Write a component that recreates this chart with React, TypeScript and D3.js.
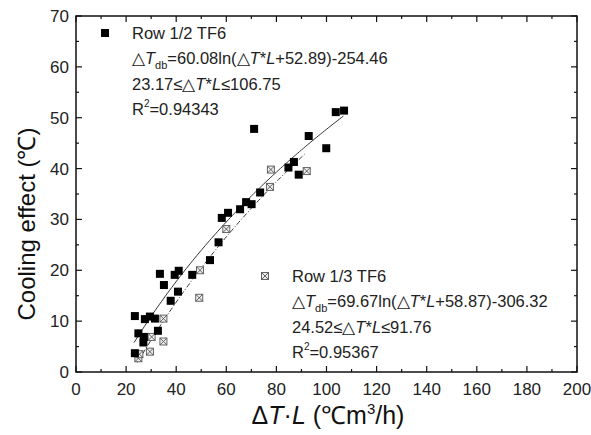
import { useEffect, useRef } from "react";
import * as d3 from "d3";

// Row 1/2 TF6 (black squares)
const row12X = [23.5, 23.5, 24.9, 27.1, 26.9, 27.5, 29.5, 31.5, 32.7, 33.5, 35.1, 37.8, 39.4, 41.0, 40.7, 46.4, 53.5, 56.9, 58.2, 60.7, 65.5, 67.9, 70.1, 71.1, 73.5, 84.8, 87.0, 88.9, 92.9, 99.9, 103.7, 107.0];
const row12Y = [11.0, 3.7, 7.6, 6.9, 5.8, 10.4, 10.9, 10.5, 8.1, 19.3, 17.1, 14.0, 19.1, 19.9, 15.8, 19.1, 22.0, 25.5, 30.3, 31.3, 32.0, 33.4, 33.0, 47.8, 35.3, 40.2, 41.3, 38.8, 46.4, 44.0, 51.1, 51.4];

// Row 1/3 TF6 (crossed squares)
const row13X = [24.9, 25.3, 29.5, 30.2, 34.9, 34.9, 49.5, 49.2, 60.0, 77.4, 77.8, 92.1];
const row13Y = [2.7, 3.5, 4.0, 6.9, 6.0, 10.5, 20.0, 14.6, 28.1, 36.4, 39.8, 39.5];

// fitted curves: y = a*ln(x + b) - c over [lo, hi]
const fit12 = { a: 60.08, b: 52.89, c: 254.46, lo: 23.17, hi: 106.75 };
const fit13 = { a: 69.67, b: 58.87, c: 306.32, lo: 24.52, hi: 91.76 };

const xTicks = [0, 20, 40, 60, 80, 100, 120, 140, 160, 180, 200];
const yTicks = [0, 10, 20, 30, 40, 50, 60, 70];

export default function App() {
  const svgRef = useRef<SVGSVGElement>(null);

  useEffect(() => {
    if (!svgRef.current) return;
    const svg = d3.select(svgRef.current);
    svg.selectAll("*").remove();

    const left = 76, right = 577, top = 16, bottom = 372;
    const x = d3.scaleLinear().domain([0, 200]).range([left, right]);
    const y = d3.scaleLinear().domain([0, 70]).range([bottom, top]);
    const font = "'Liberation Sans', Arial, sans-serif";
    const ink = "#222";

    // frame
    svg.append("rect")
      .attr("x", left).attr("y", top)
      .attr("width", right - left).attr("height", bottom - top)
      .attr("fill", "none").attr("stroke", "#111").attr("stroke-width", 1.5);

    // ticks, all inward
    const xMinor = d3.range(10, 200, 20);
    const yMinor = d3.range(5, 70, 10);
    const g = svg.append("g").attr("stroke", "#111").attr("stroke-width", 1.2);
    xTicks.forEach(t => {
      g.append("line").attr("x1", x(t)).attr("x2", x(t)).attr("y1", bottom).attr("y2", bottom - 6);
      g.append("line").attr("x1", x(t)).attr("x2", x(t)).attr("y1", top).attr("y2", top + 6);
    });
    xMinor.forEach(t => {
      g.append("line").attr("x1", x(t)).attr("x2", x(t)).attr("y1", bottom).attr("y2", bottom - 3);
      g.append("line").attr("x1", x(t)).attr("x2", x(t)).attr("y1", top).attr("y2", top + 3);
    });
    yTicks.forEach(t => {
      g.append("line").attr("x1", left).attr("x2", left + 6).attr("y1", y(t)).attr("y2", y(t));
      g.append("line").attr("x1", right).attr("x2", right - 6).attr("y1", y(t)).attr("y2", y(t));
    });
    yMinor.forEach(t => {
      g.append("line").attr("x1", left).attr("x2", left + 3).attr("y1", y(t)).attr("y2", y(t));
      g.append("line").attr("x1", right).attr("x2", right - 3).attr("y1", y(t)).attr("y2", y(t));
    });

    // tick labels
    svg.append("g").selectAll("text").data(xTicks).enter().append("text")
      .attr("x", d => x(d)).attr("y", bottom + 23)
      .attr("text-anchor", "middle").attr("font-family", font).attr("font-size", 17)
      .attr("fill", ink).text(d => d);
    svg.append("g").selectAll("text").data(yTicks).enter().append("text")
      .attr("x", left - 7).attr("y", d => y(d) + 6)
      .attr("text-anchor", "end").attr("font-family", font).attr("font-size", 17)
      .attr("fill", ink).text(d => d);

    // fit curves
    const curve = (f: typeof fit12) =>
      d3.range(0, 101).map(i => {
        const xv = f.lo + (f.hi - f.lo) * i / 100;
        return [xv, f.a * Math.log(xv + f.b) - f.c] as [number, number];
      });
    const line = d3.line<[number, number]>().x(d => x(d[0])).y(d => y(d[1]));
    svg.append("path").attr("d", line(curve(fit12)))
      .attr("fill", "none").attr("stroke", "#333").attr("stroke-width", 1);
    svg.append("path").attr("d", line(curve(fit13)))
      .attr("fill", "none").attr("stroke", "#333").attr("stroke-width", 1)
      .attr("stroke-dasharray", "5,2,1,2");

    // crossed-square marker
    const crossed = (sel: any, cx: number, cy: number) => {
      const s = 3.5;
      const mg = sel.append("g").attr("stroke", "#555").attr("stroke-width", 0.9).attr("fill", "none");
      mg.append("rect").attr("x", cx - s).attr("y", cy - s).attr("width", 2 * s).attr("height", 2 * s).attr("fill", "#eee");
      mg.append("line").attr("x1", cx - s).attr("y1", cy - s).attr("x2", cx + s).attr("y2", cy + s);
      mg.append("line").attr("x1", cx + s).attr("y1", cy - s).attr("x2", cx - s).attr("y2", cy + s);
    };

    const pts13 = svg.append("g");
    row13X.forEach((xv, i) => crossed(pts13, x(xv), y(row13Y[i])));

    svg.append("g").selectAll("rect").data(row12X).enter().append("rect")
      .attr("x", d => x(d) - 4).attr("y", (_, i) => y(row12Y[i]) - 4)
      .attr("width", 8).attr("height", 8).attr("fill", "#000");

    // legend blocks
    const block = (mx: number, my: number, title: string, f: typeof fit12, r2: string, marker: (cx: number, cy: number) => void) => {
      marker(mx, my);
      const tx = mx + 27;
      const t = (yy: number) => svg.append("text").attr("x", tx).attr("y", yy)
        .attr("font-family", font).attr("font-size", 16.5).attr("fill", ink);
      t(my + 6).text(title);
      const l2 = t(my + 31);
      l2.append("tspan").text("\u25B3");
      l2.append("tspan").attr("font-style", "italic").text("T");
      l2.append("tspan").attr("font-size", 11).attr("dy", 5).text("db");
      l2.append("tspan").attr("dy", -5).text(`=${f.a.toFixed(2)}ln(\u25B3`);
      l2.append("tspan").attr("font-style", "italic").text("T");
      l2.append("tspan").text("*");
      l2.append("tspan").attr("font-style", "italic").text("L");
      l2.append("tspan").text(`+${f.b.toFixed(2)})-${f.c.toFixed(2)}`);
      const l3 = t(my + 57);
      l3.append("tspan").text(`${f.lo.toFixed(2)}\u2264\u25B3`);
      l3.append("tspan").attr("font-style", "italic").text("T");
      l3.append("tspan").text("*");
      l3.append("tspan").attr("font-style", "italic").text("L");
      l3.append("tspan").text(`\u2264${f.hi.toFixed(2)}`);
      const l4 = t(my + 82);
      l4.append("tspan").text("R");
      l4.append("tspan").attr("font-size", 10).attr("dy", -8).text("2");
      l4.append("tspan").attr("dy", 8).text(`=${r2}`);
    };
    block(105, 33, "Row 1/2 TF6", fit12, "0.94343", (cx, cy) =>
      svg.append("rect").attr("x", cx - 4).attr("y", cy - 4).attr("width", 8).attr("height", 8).attr("fill", "#000"));
    block(265, 276, "Row 1/3 TF6", fit13, "0.95367", (cx, cy) => crossed(svg, cx, cy));

    // axis titles
    svg.append("text")
      .attr("transform", `translate(35, 224) rotate(-90)`)
      .attr("text-anchor", "middle").attr("font-family", font).attr("font-size", 24)
      .attr("fill", "#111").text("Cooling effect (\u2103)");
    const xt = svg.append("text")
      .attr("x", 328).attr("y", 424)
      .attr("text-anchor", "middle").attr("font-family", font).attr("font-size", 25)
      .attr("fill", "#111");
    xt.append("tspan").text("\u0394");
    xt.append("tspan").attr("font-style", "italic").text("T");
    xt.append("tspan").text("\u00B7");
    xt.append("tspan").attr("font-style", "italic").text("L");
    xt.append("tspan").text(" (\u2103m");
    xt.append("tspan").attr("font-size", 15).attr("dy", -10).text("3");
    xt.append("tspan").attr("dy", 10).text("/h)");
  }, []);

  return (
    <svg ref={svgRef} width={591} height={435}
      style={{ position: "absolute", left: 0, top: 0, background: "#fff" }} />
  );
}
